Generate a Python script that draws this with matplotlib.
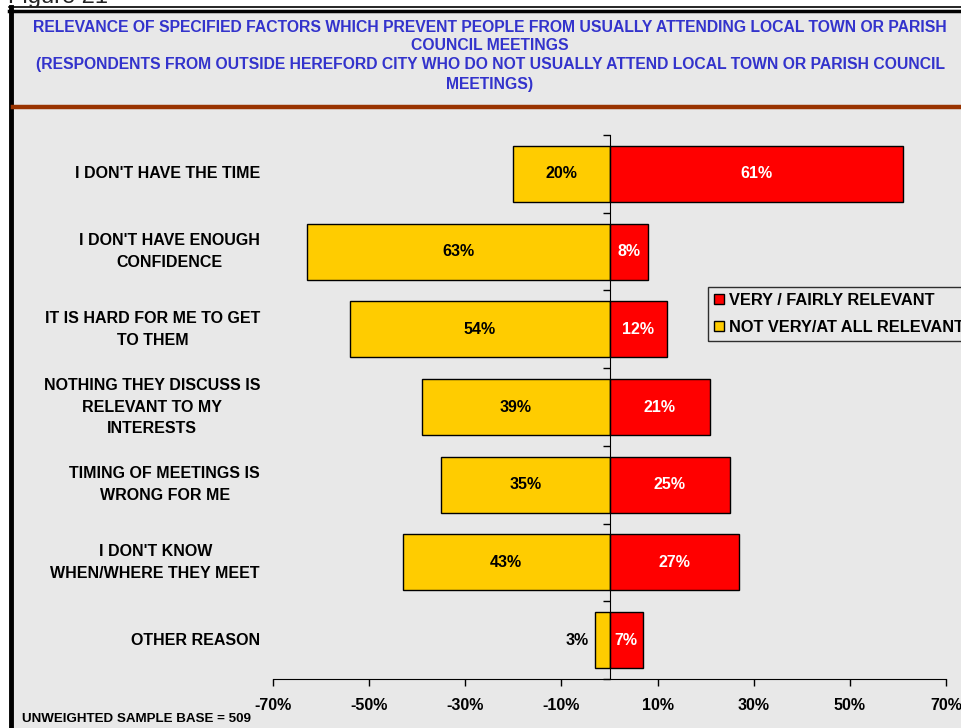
import numpy as np
import matplotlib
matplotlib.use('Agg')
from matplotlib import pyplot as plt
from matplotlib.patches import Rectangle, Patch
from matplotlib.lines import Line2D
from matplotlib.transforms import blended_transform_factory

categories = ["I DON'T HAVE THE TIME",
              "I DON'T HAVE ENOUGH\nCONFIDENCE",
              "IT IS HARD FOR ME TO GET\nTO THEM",
              "NOTHING THEY DISCUSS IS\nRELEVANT TO MY\nINTERESTS",
              "TIMING OF MEETINGS IS\nWRONG FOR ME",
              "I DON'T KNOW\nWHEN/WHERE THEY MEET",
              "OTHER REASON"]
not_relevant = [20, 63, 54, 39, 35, 43, 3]
relevant = [61, 8, 12, 21, 25, 27, 7]
xticks = [-70, -50, -30, -10, 10, 30, 50, 70]
legend_labels = ['VERY / FAIRLY RELEVANT', 'NOT VERY/AT ALL RELEVANT']
title_lines = ['RELEVANCE OF SPECIFIED FACTORS WHICH PREVENT PEOPLE FROM USUALLY ATTENDING LOCAL TOWN OR PARISH',
               'COUNCIL MEETINGS',
               '(RESPONDENTS FROM OUTSIDE HEREFORD CITY WHO DO NOT USUALLY ATTEND LOCAL TOWN OR PARISH COUNCIL',
               'MEETINGS)']

RED = '#FF0000'
YELLOW = '#FFCC00'

plt.rcParams['font.family'] = ['Liberation Sans', 'DejaVu Sans']

W, H = 961, 728


def fx(px):
    return px / W


def fy(py):
    return 1 - py / H


fig = plt.figure(figsize=(9.61, 7.28), dpi=100)
fig.patch.set_facecolor('white')

# grey chart background and frame
fig.patches.append(Rectangle((fx(12), 0), 1, fy(12), transform=fig.transFigure,
                             facecolor='#e8e8e8', edgecolor='none', zorder=-5))
fig.lines.append(Line2D([fx(9), 1], [fy(7), fy(7)], transform=fig.transFigure, color='black', lw=1.2))
fig.lines.append(Line2D([fx(9), 1], [fy(11), fy(11)], transform=fig.transFigure, color='black', lw=2.5))
fig.lines.append(Line2D([fx(11), fx(11)], [0, fy(7)], transform=fig.transFigure, color='black', lw=3.5))
fig.lines.append(Line2D([fx(13), 1], [fy(107), fy(107)], transform=fig.transFigure, color='#993300', lw=3.2))

fig.text(fx(8), fy(3), 'Figure 21', fontsize=17, color='#222222', va='baseline', ha='left')

for i, line in enumerate(title_lines):
    fig.text(fx(490), fy([27, 46, 65, 85][i]), line, ha='center', va='center',
             color='#3333CC', fontsize=11.3, fontweight='bold')

ax = fig.add_axes([fx(273), fy(679), fx(946) - fx(273), fy(135) - fy(679)])
ax.patch.set_visible(False)

y = np.arange(len(categories))
ax.barh(y, [-v for v in not_relevant], height=0.72, color=YELLOW, edgecolor='black', lw=1, zorder=2)
ax.barh(y, relevant, height=0.72, color=RED, edgecolor='black', lw=1, zorder=2)

ax.set_xlim(-70, 70)
ax.set_ylim(len(categories) - 0.5, -0.5)

for s in ['top', 'right']:
    ax.spines[s].set_visible(False)
ax.spines['left'].set_position(('data', 0))
ax.spines['left'].set_zorder(3)
ax.set_yticks(np.arange(-0.5, len(categories), 1))
ax.set_yticklabels([])
ax.tick_params(axis='y', direction='out', length=5, width=1)

ax.set_xticks(xticks)
ax.set_xticklabels([f'{t}%' for t in xticks], fontsize=11.5, fontweight='bold')
ax.tick_params(axis='x', direction='out', length=5, width=1, pad=9)

trans = blended_transform_factory(fig.transFigure, ax.transData)
for i, cat in enumerate(categories):
    ax.text(fx(260), i, cat, transform=trans, ha='right', va='center', multialignment='center',
            fontsize=11.5, fontweight='bold', linespacing=1.55)

for i, (n, r) in enumerate(zip(not_relevant, relevant)):
    if n >= 10:
        ax.text(-n / 2, i, f'{n}%', ha='center', va='center', fontsize=11.5, fontweight='bold', zorder=4)
    else:
        ax.text(-n - 1.3, i, f'{n}%', ha='right', va='center', fontsize=11.5, fontweight='bold', zorder=4)
    ax.text(r / 2, i, f'{r}%', ha='center', va='center', fontsize=11.5, fontweight='bold',
            color='white', zorder=4)

handles = [Patch(facecolor=RED, edgecolor='black'), Patch(facecolor=YELLOW, edgecolor='black')]
leg = fig.legend(handles, legend_labels, loc='upper left', bbox_to_anchor=(fx(708), fy(287)),
                 frameon=True, fancybox=False, edgecolor='black', facecolor='none',
                 handlelength=0.6, handleheight=0.6, handletextpad=0.35, borderpad=0.35,
                 labelspacing=0.75, borderaxespad=0, prop={'size': 11.8, 'weight': 'bold'})
leg.get_frame().set_linewidth(1)

fig.text(fx(22), fy(719), 'UNWEIGHTED SAMPLE BASE = 509', ha='left', va='center',
         fontsize=9.6, fontweight='bold')

fig.savefig('out.png', dpi=100, facecolor=fig.get_facecolor())
